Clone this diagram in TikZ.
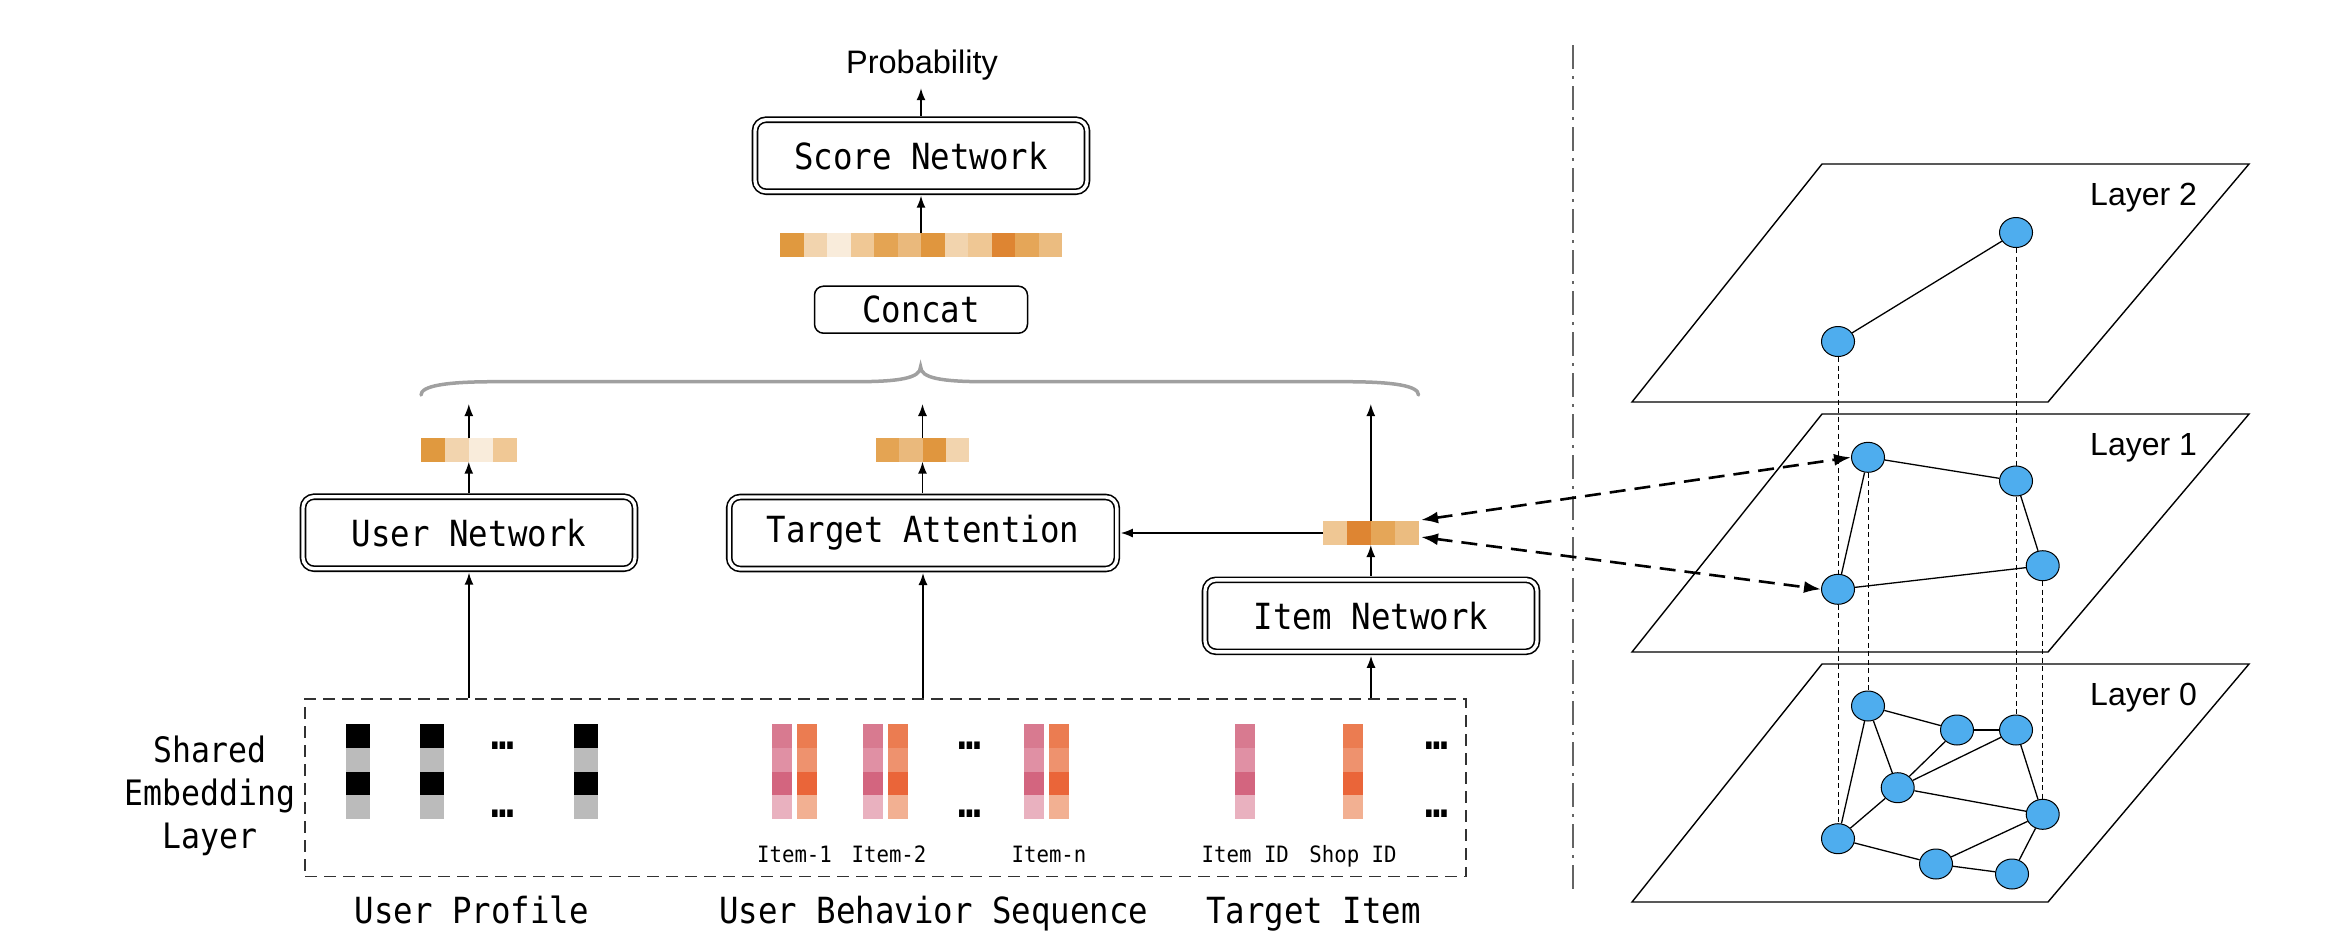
\documentclass[tikz,border=0pt]{standalone}
\usepackage{fontspec}
\usetikzlibrary{shapes.geometric,arrows.meta,calc}
\newfontfamily\monof[FakeStretch=0.9]{DejaVu Sans Mono}
\newfontfamily\monosm[FakeStretch=0.92]{DejaVu Sans Mono}
\newfontfamily\sansf{Liberation Sans}
\definecolor{nodeblue}{RGB}{78,173,238}
\definecolor{oA}{RGB}{224,153,63}
\definecolor{oB}{RGB}{242,212,174}
\definecolor{oC}{RGB}{249,236,219}
\definecolor{oD}{RGB}{240,200,149}
\definecolor{oE}{RGB}{228,164,83}
\definecolor{oF}{RGB}{234,185,124}
\definecolor{oG}{RGB}{224,150,62}
\definecolor{oI}{RGB}{239,199,148}
\definecolor{oJ}{RGB}{222,133,50}
\definecolor{oK}{RGB}{229,166,88}
\definecolor{oL}{RGB}{235,188,128}
\definecolor{pA}{RGB}{216,122,144}
\definecolor{pB}{RGB}{224,144,164}
\definecolor{pC}{RGB}{211,101,127}
\definecolor{pD}{RGB}{233,177,191}
\definecolor{rA}{RGB}{235,124,81}
\definecolor{rB}{RGB}{238,146,110}
\definecolor{rC}{RGB}{234,101,57}
\definecolor{rD}{RGB}{242,176,146}
\definecolor{gA}{RGB}{187,187,187}
\definecolor{braceg}{RGB}{160,160,160}
\definecolor{sepg}{RGB}{100,100,100}
\definecolor{embg}{RGB}{50,50,50}
\newcommand{\cellrow}[5]{\foreach \mycol [count=\myi from 0] in {#5}{\fill[fill=\mycol] ({#1+\myi*#3},#2) rectangle ++(#3,#4);}}
\newcommand{\cellcol}[5]{\foreach \mycol [count=\myi from 0] in {#5}{\fill[fill=\mycol] (#1,{#2+\myi*#4}) rectangle ++(#3,#4);}}
\begin{document}
\begin{tikzpicture}[x=1pt,y=-1pt,
  arr/.style={-{Latex[length=12pt,width=9pt]}, line width=1.5pt},
  darr/.style={{Latex[length=17pt,width=12pt]}-{Latex[length=17pt,width=12pt]}, dash pattern=on 16pt off 9pt, line width=2.6pt},
  netbox/.style={draw, double, double distance=3.4pt, line width=1.6pt, rounded corners=11pt, minimum width=332pt, minimum height=72pt, inner sep=0pt, outer sep=4pt, font=\monof\fontsize{36}{40}\selectfont},
  plainbox/.style={draw, line width=1.5pt, rounded corners=9pt, minimum width=213pt, minimum height=47pt, inner sep=0pt, outer sep=0.75pt, font=\monof\fontsize{36}{40}\selectfont},
  vecn/.style={inner sep=0pt, outer sep=0pt, minimum height=23.4pt},
  bigtxt/.style={font=\monof\fontsize{36}{40}\selectfont, anchor=base, inner sep=0pt},
  smalltxt/.style={font=\monosm\fontsize{22.5}{26}\selectfont, anchor=base, inner sep=0pt},
  dotstxt/.style={font=\monof\bfseries\fontsize{42}{44}\selectfont, anchor=base, inner sep=0pt},
  layertxt/.style={font=\sansf\fontsize{32}{36}\selectfont, anchor=base west, inner sep=0pt},
  gn/.style={ellipse, draw, line width=1pt, fill=nodeblue, minimum width=33pt, minimum height=30pt, inner sep=0pt},
  gedge/.style={line width=1.3pt},
  vd/.style={line width=1pt, dash pattern=on 5pt off 3.5pt},
  plane/.style={line width=1.4pt}
]
\useasboundingbox (0,0) rectangle (2344,938);

% ---------------- left part ----------------
\node[font=\sansf\fontsize{32.5}{36}\selectfont, anchor=base, inner sep=0pt] (prob) at (922,73.3) {Probability};
\node[netbox] (sn) at (921,155.7) {Score Network};
\cellrow{780}{233.3}{23.5}{23.4}{oA,oB,oC,oD,oE,oF,oG,oB,oI,oJ,oK,oL}
\node[vecn, minimum width=282pt] (cv) at (921,245) {};
\node[plainbox] (cc) at (921,309.7) {Concat};

\draw[arr, shorten >=8pt] (sn.north) -- (sn.north |- prob.south);
\draw[arr] (cv.north) -- (sn.south);

% brace
\draw[line width=3.5pt, braceg, line cap=round]
  (421,395) .. controls (421,386) and (445,381.7) .. (495,381.7) -- (855,381.7)
  .. controls (900,381.7) and (920.6,378) .. (920.6,366.7)
  .. controls (920.6,378) and (941,381.7) .. (986,381.7) -- (1345,381.7)
  .. controls (1395,381.7) and (1418.5,386) .. (1418.5,395);

% user column
\cellrow{421}{438.3}{23.9}{23.4}{oA,oB,oC,oD}
\node[vecn, minimum width=95.6pt] (uv) at (468.8,450) {};
\node[netbox] (un) at (469,532.7) {User Network};
\coordinate (ubr) at (468.8,404);
\draw[arr] (un.north -| uv.south) -- (uv.south);
\draw[arr] (uv.north) -- (ubr);

% target column
\cellrow{875.7}{438.3}{23.4}{23.4}{oE,oF,oG,oB}
\node[vecn, minimum width=93.6pt] (tv) at (922.5,450) {};
\node[netbox, minimum width=387.6pt] (ta) at (923,533) {Target Attention};
\coordinate (tbr) at (922.5,404);
\draw[arr] (ta.north -| tv.south) -- (tv.south);
\draw[arr] (tv.north) -- (tbr);

% item column
\cellrow{1323}{521}{23.9}{24}{oI,oJ,oK,oL}
\node[vecn, minimum width=95.6pt, minimum height=24pt] (iv) at (1370.8,533) {};
\node[netbox] (in) at (1371,615.8) {Item Network};
\coordinate (ibr) at (1370.8,404);
\draw[arr] (in.north -| iv.south) -- (iv.south);
\draw[arr] (iv.north) -- (ibr);
\draw[arr] (iv.west) -- (ta.east);

% embedding layer
\node[draw, embg, line width=1.5pt, dash pattern=on 12pt off 7pt, minimum width=1161pt, minimum height=177.7pt, inner sep=0pt] (emb) at (885.5,787.85) {};
\draw[arr] (emb.north -| un.south) -- (un.south);
\draw[arr] (emb.north -| ta.south) -- (ta.south);
\draw[arr] (emb.north -| in.south) -- (in.south);

\node[align=center, font=\monof\fontsize{35}{42.7}\selectfont, inner sep=0pt] (sel) at (210,796) {Shared\\Embedding\\Layer};

% user profile columns
\cellcol{346}{724}{24}{23.75}{black,gA,black,gA}
\cellcol{420}{724}{24}{23.75}{black,gA,black,gA}
\cellcol{574}{724}{24}{23.75}{black,gA,black,gA}
\node[dotstxt] (ud1) at (503,749.4) {…};
\node[dotstxt] (ud2) at (503,817.5) {…};

% behaviour sequence columns
\cellcol{772}{724}{20}{23.75}{pA,pB,pC,pD}
\cellcol{797}{724}{20}{23.75}{rA,rB,rC,rD}
\cellcol{863}{724}{20}{23.75}{pA,pB,pC,pD}
\cellcol{888}{724}{20}{23.75}{rA,rB,rC,rD}
\cellcol{1024.4}{724}{20}{23.75}{pA,pB,pC,pD}
\cellcol{1049.3}{724}{20}{23.75}{rA,rB,rC,rD}
\node[dotstxt] (sd1) at (970,749.4) {…};
\node[dotstxt] (sd2) at (970,817.5) {…};

% target item columns
\cellcol{1235}{724}{20}{23.75}{pA,pB,pC,pD}
\cellcol{1343.3}{724}{20}{23.75}{rA,rB,rC,rD}
\node[dotstxt] (td1) at (1437,749.4) {…};
\node[dotstxt] (td2) at (1437,817.5) {…};

\node[smalltxt] (l1) at (794.5,862.7) {Item-1};
\node[smalltxt] (l2) at (889,862.7) {Item-2};
\node[smalltxt] (l3) at (1049,862.7) {Item-n};
\node[smalltxt] (l4) at (1245.3,862.7) {Item ID};
\node[smalltxt] (l5) at (1353,862.7) {Shop ID};

\node[bigtxt] (up) at (471.7,923) {User Profile};
\node[bigtxt] (ubs) at (933.8,923) {User Behavior Sequence};
\node[bigtxt] (ti) at (1313.7,923) {Target Item};

% separator
\draw[sepg, line width=2pt, dash pattern=on 24pt off 7pt on 3pt off 7pt] (1572.7,45) -- (1572.7,889);

% ---------------- right part ----------------
\draw[plane] (1822,164) -- (2249,164) -- (2048,402) -- (1632,402) -- cycle;
\draw[plane] (1822,414) -- (2249,414) -- (2048,652) -- (1632,652) -- cycle;
\draw[plane] (1822,664) -- (2249,664) -- (2048,902) -- (1632,902) -- cycle;
\node[layertxt] (lay2) at (2090,205) {Layer 2};
\node[layertxt] (lay1) at (2090,455) {Layer 1};
\node[layertxt] (lay0) at (2090,705) {Layer 0};

\node[gn] (a2) at (1838,341.5) {};
\node[gn] (b2) at (2016,232.5) {};
\node[gn] (a1) at (1868,457.3) {};
\node[gn] (b1) at (2016,481) {};
\node[gn] (c1) at (2042.7,565.7) {};
\node[gn] (d1) at (1838,589.3) {};
\node[gn] (a0) at (1868,706) {};
\node[gn] (b0) at (1957,730) {};
\node[gn] (c0) at (2016,730) {};
\node[gn] (d0) at (1897.7,787.7) {};
\node[gn] (e0) at (2042.7,814.3) {};
\node[gn] (f0) at (1838,838.7) {};
\node[gn] (g0) at (1936,864) {};
\node[gn] (h0) at (2012,874) {};

\draw[vd] (a2) -- (d1);
\draw[vd] (d1) -- (f0);
\draw[vd] (b2) -- (b1);
\draw[vd] (b1) -- (c0);
\draw[vd] (a1) -- (a0);
\draw[vd] (c1) -- (e0);

\draw[gedge] (a2) -- (b2);
\draw[gedge] (a1) -- (b1);
\draw[gedge] (b1) -- (c1);
\draw[gedge] (c1) -- (d1);
\draw[gedge] (d1) -- (a1);
\draw[gedge] (a0) -- (b0);
\draw[gedge] (b0) -- (c0);
\draw[gedge] (a0) -- (f0);
\draw[gedge] (a0) -- (d0);
\draw[gedge] (d0) -- (b0);
\draw[gedge] (d0) -- (c0);
\draw[gedge] (d0) -- (e0);
\draw[gedge] (d0) -- (f0);
\draw[gedge] (c0) -- (e0);
\draw[gedge] (f0) -- (g0);
\draw[gedge] (g0) -- (e0);
\draw[gedge] (g0) -- (h0);
\draw[gedge] (h0) -- (e0);

\coordinate (ivA) at (1421,520);
\coordinate (ivB) at (1421,537);
\draw[darr] (ivA) -- (a1.west);
\draw[darr] (ivB) -- (d1.west);
\end{tikzpicture}
\end{document}
